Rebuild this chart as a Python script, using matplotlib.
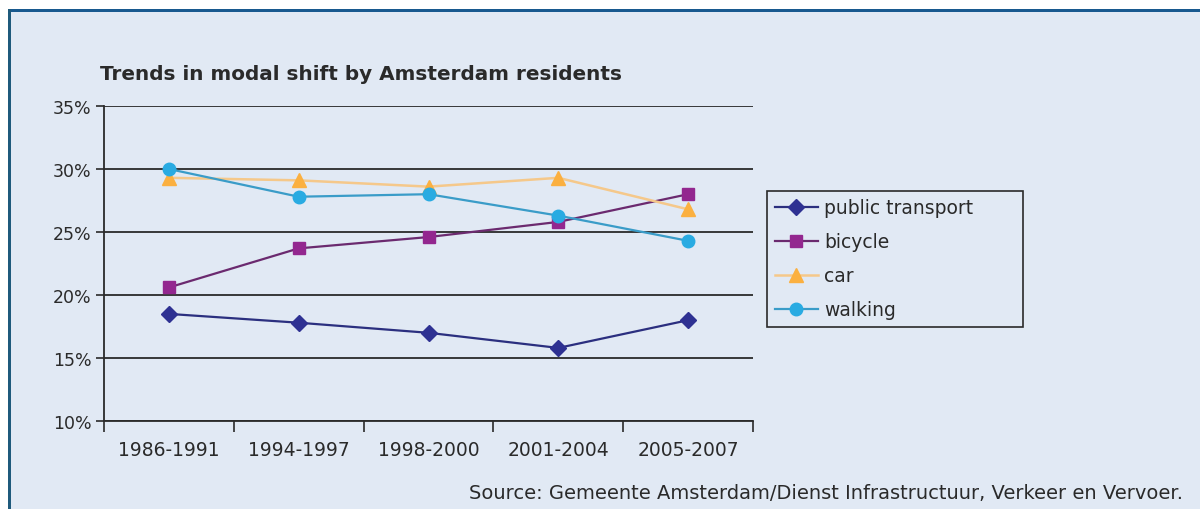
import matplotlib.pyplot as plt
from matplotlib.patches import Rectangle
from matplotlib.ticker import FixedLocator, NullFormatter

# Modal share (%) per period
periods = ["1986-1991", "1994-1997", "1998-2000", "2001-2004", "2005-2007"]
public_transport = [18.5, 17.8, 17.0, 15.8, 18.0]
bicycle = [20.6, 23.7, 24.6, 25.8, 28.0]
car = [29.3, 29.1, 28.6, 29.3, 26.8]
walking = [30.0, 27.8, 28.0, 26.3, 24.3]

bg = "#e1e9f4"
W, H = 1200, 510

fig = plt.figure(figsize=(12, 5.1), dpi=100, facecolor="white")

# panel background with the dark blue frame on top and left
fig.patches.append(Rectangle((8 / W, 0), 1 - 8 / W, 1 - 10 / H,
                             transform=fig.transFigure, facecolor=bg,
                             edgecolor="none", zorder=-2))
fig.patches.append(Rectangle((8 / W, 1 - 13 / H), 1 - 8 / W, 3 / H,
                             transform=fig.transFigure, facecolor="#18598f",
                             edgecolor="none", zorder=-1))
fig.patches.append(Rectangle((8 / W, 0), 3 / W, 1 - 10 / H,
                             transform=fig.transFigure, facecolor="#1f5a7c",
                             edgecolor="none", zorder=-1))

ax = fig.add_axes([104 / W, (H - 422) / H, (753 - 104) / W, (422 - 107) / H])
ax.set_facecolor(bg)

x = range(len(periods))
ax.plot(x, public_transport, color="#2b2f7f", lw=1.6, marker="D", ms=8,
        mfc="#2e3192", mec="#2e3192", label="public transport")
ax.plot(x, bicycle, color="#6b2a6f", lw=1.6, marker="s", ms=9,
        mfc="#93278f", mec="#93278f", label="bicycle")
ax.plot(x, car, color="#f5c88a", lw=1.8, marker="^", ms=10,
        mfc="#fbb040", mec="#fbb040", label="car")
ax.plot(x, walking, color="#3a9cc8", lw=1.6, marker="o", ms=9,
        mfc="#29abe2", mec="#29abe2", label="walking")

ax.set_xlim(-0.5, 4.5)
ax.set_ylim(10, 35)
ax.set_yticks([10, 15, 20, 25, 30, 35])
ax.set_yticklabels([f"{v}%" for v in [10, 15, 20, 25, 30, 35]])
ax.yaxis.grid(True, color="#2a2a2a", lw=1.3)
ax.set_axisbelow(True)

# ticks between categories, labels centred under each category
ax.xaxis.set_major_locator(FixedLocator([-0.5, 0.5, 1.5, 2.5, 3.5, 4.5]))
ax.xaxis.set_major_formatter(NullFormatter())
ax.xaxis.set_minor_locator(FixedLocator(list(x)))
ax.set_xticklabels(periods, minor=True)
ax.tick_params(axis="x", which="major", length=8, width=1.2, color="#2a2a2a")
ax.tick_params(axis="x", which="minor", length=0, pad=14,
               labelsize=13.5, labelcolor="#2a2a2a")
ax.tick_params(axis="y", length=6, width=1.2, color="#2a2a2a",
               labelsize=12.5, labelcolor="#2a2a2a", pad=3)

for side in ["top", "right"]:
    ax.spines[side].set_visible(False)
ax.spines["left"].set_color("#2a2a2a")
ax.spines["left"].set_linewidth(1.3)
ax.spines["bottom"].set_color("#2a2a2a")
ax.spines["bottom"].set_linewidth(1.3)

# legend box stretched to a fixed width
leg = fig.legend(loc="upper left",
                 bbox_to_anchor=(767 / W, (H - 323) / H, 256 / W, 131 / H),
                 mode="expand", frameon=True, fancybox=False, fontsize=13.5,
                 handlelength=2.3, handletextpad=0.35, labelspacing=0.8,
                 borderpad=0.4, borderaxespad=0, edgecolor="#2a2a2a",
                 facecolor=bg, framealpha=1)
leg.get_frame().set_linewidth(1.2)
for t in leg.get_texts():
    t.set_color("#2a2a2a")

fig.text(100 / W, 1 - 75 / H, "Trends in modal shift by Amsterdam residents",
         fontsize=14.4, fontweight="bold", color="#2a2a2a", va="center")
fig.text(1183 / W, 1 - 494 / H,
         "Source: Gemeente Amsterdam/Dienst Infrastructuur, Verkeer en Vervoer.",
         fontsize=14, color="#2a2a2a", ha="right", va="center")

fig.savefig("out.png", dpi=100, facecolor="white")
